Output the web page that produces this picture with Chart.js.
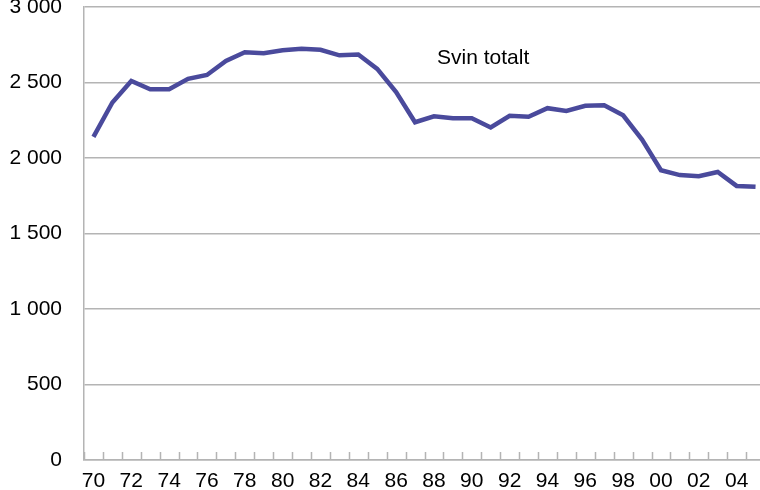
<!DOCTYPE html>
<html>
<head>
<meta charset="utf-8">
<script src="https://cdn.jsdelivr.net/npm/chart.js@4/dist/chart.umd.min.js"></script>
<style>
  html, body { margin: 0; padding: 0; background: #fff; overflow: hidden; }
  #wrap { width: 760px; height: 490px; overflow: hidden; }
  canvas { display: block; }
</style>
</head>
<body>
<div id="wrap"><canvas id="c" width="766" height="490" style="width:766px;height:490px"></canvas></div>
<script>
// Categories: years 1970–2005 (two-digit labels)
const years = ['70','71','72','73','74','75','76','77','78','79',
               '80','81','82','83','84','85','86','87','88','89',
               '90','91','92','93','94','95','96','97','98','99',
               '00','01','02','03','04','05'];
// Svin totalt
const svinTotalt = [2140, 2368, 2510, 2455, 2455, 2524, 2550, 2643, 2700, 2694,
                    2713, 2723, 2717, 2680, 2686, 2590, 2437, 2237, 2276, 2263,
                    2263, 2202, 2279, 2273, 2330, 2312, 2346, 2349, 2283, 2122,
                    1919, 1887, 1879, 1907, 1815, 1809];
const yTicks = [0, 500, 1000, 1500, 2000, 2500, 3000];
const seriesLabel = 'Svin totalt';

const GRID = '#b4b4b4';
const FONT = "'Liberation Sans', Arial, sans-serif";

function fmt(v) {
  return String(v).replace(/\B(?=(\d{3})+(?!\d))/g, ' ');
}

const innerTicks = {
  id: 'innerTicks',
  afterDraw(chart) {
    const xs = chart.scales.x;
    const ctx = chart.ctx;
    const bottom = chart.chartArea.bottom;
    const step = xs.getPixelForValue(1) - xs.getPixelForValue(0);
    ctx.save();
    ctx.strokeStyle = GRID;
    ctx.lineWidth = 1.5;
    ctx.beginPath();
    for (let i = 0; i <= years.length; i++) {
      const x = Math.round(xs.getPixelForValue(i) - step / 2) + 0.5;
      ctx.moveTo(x, bottom);
      ctx.lineTo(x, bottom - 8);
    }
    ctx.stroke();
    ctx.restore();
  }
};

const seriesTitle = {
  id: 'seriesTitle',
  afterDraw(chart) {
    const ctx = chart.ctx;
    const a = chart.chartArea;
    ctx.save();
    ctx.fillStyle = '#000';
    ctx.font = '21px ' + FONT;
    ctx.textAlign = 'left';
    ctx.textBaseline = 'middle';
    ctx.fillText(seriesLabel, a.left + 353, a.top + 51);
    ctx.restore();
  }
};

new Chart(document.getElementById('c'), {
  type: 'line',
  data: {
    labels: years,
    datasets: [{
      label: seriesLabel,
      data: svinTotalt,
      borderColor: '#4a4a9c',
      backgroundColor: '#4a4a9c',
      borderWidth: 4.5,
      pointRadius: 0,
      tension: 0,
      fill: false
    }]
  },
  options: {
    responsive: false,
    devicePixelRatio: 1,
    animation: false,
    layout: { padding: { top: 7, right: 1, left: 0, bottom: 0 } },
    plugins: { legend: { display: false }, tooltip: { enabled: false } },
    scales: {
      x: {
        offset: true,
        grid: { display: false, drawTicks: false },
        border: { display: true, color: GRID, width: 1.5 },
        ticks: {
          autoSkip: false,
          maxRotation: 0,
          padding: 9,
          color: '#000',
          font: { family: FONT, size: 21 },
          callback: function (v, i) { return i % 2 === 0 ? years[i] : ''; }
        },
        afterFit(scale) {
          scale.height = 30;
          scale.paddingLeft = 0;
          scale.paddingRight = 0;
        }
      },
      y: {
        min: 0,
        max: 3000,
        afterBuildTicks(scale) { scale.ticks = yTicks.map(v => ({ value: v })); },
        grid: { color: GRID, lineWidth: 1.5, drawTicks: false },
        border: { display: true, color: GRID, width: 1.5 },
        ticks: {
          padding: 22,
          color: '#000',
          font: { family: FONT, size: 21 },
          callback: v => fmt(v)
        },
        afterFit(scale) {
          scale.width = 84;
          scale.paddingTop = 0;
          scale.paddingBottom = 0;
        }
      }
    }
  },
  plugins: [innerTicks, seriesTitle]
});
</script>
</body>
</html>
